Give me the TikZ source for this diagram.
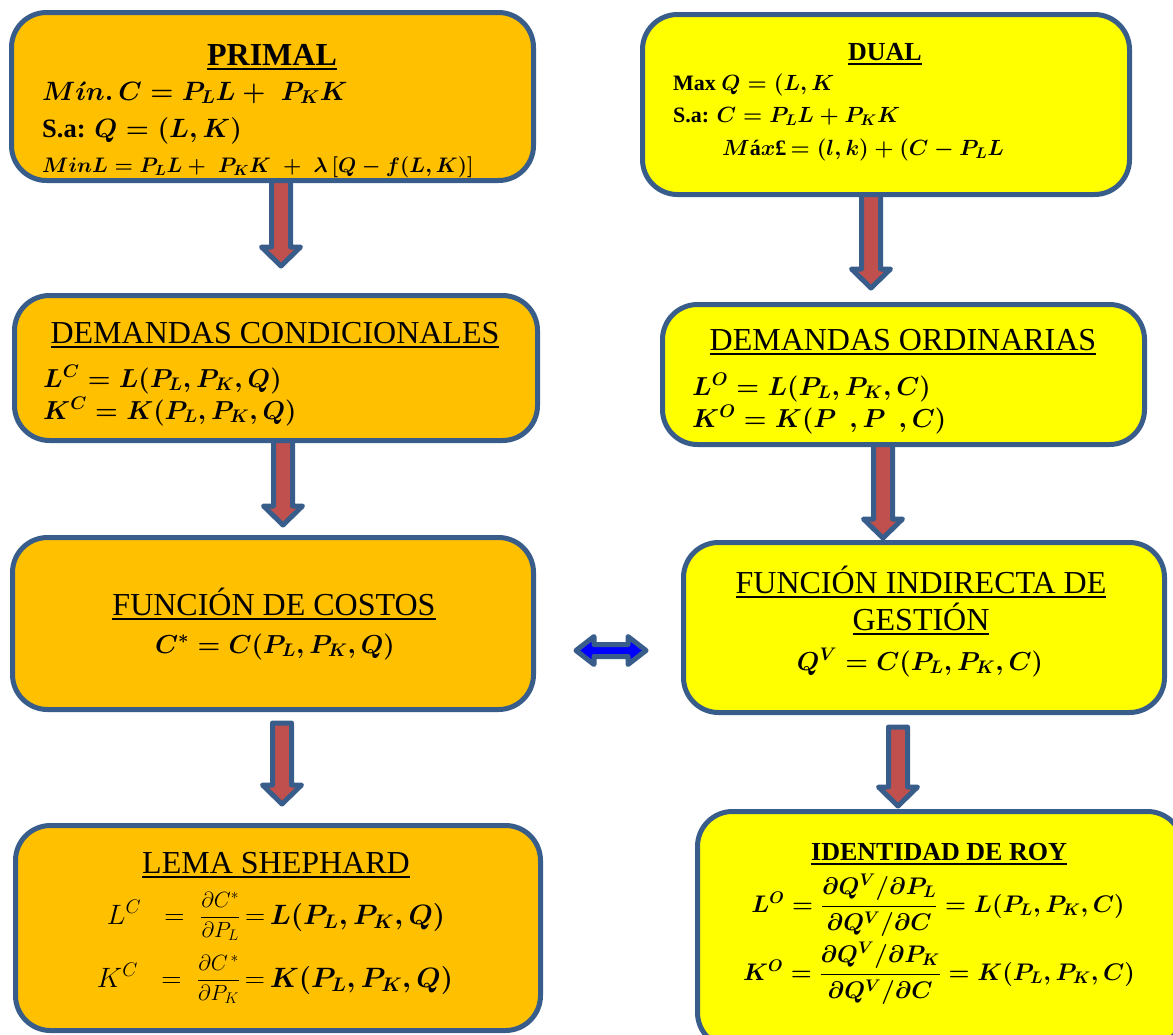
\RequirePackage{fix-cm}
\documentclass[tikz,border=0pt]{standalone}
\usepackage{amsmath}
\usepackage{fontspec}
\setmainfont{Liberation Serif}
\definecolor{boxline}{RGB}{56,93,138}
\definecolor{orangefill}{RGB}{255,192,0}
\definecolor{yellowfill}{RGB}{255,255,0}
\definecolor{arrowred}{RGB}{192,80,77}
\definecolor{arrowblue}{RGB}{0,0,255}
\newcommand\myul[1]{\leavevmode\setbox0=\hbox{#1}\rlap{\rule[-5pt]{\wd0}{2.5pt}}\box0}
\newcommand\myfs[1]{\fontsize{#1}{#1}\selectfont}
\newcommand\blockdown[3]{%
  \draw[blockarr] (#1-9.5,#2) -- (#1-9.5,#3-19) -- (#1-19.5,#3-19) -- (#1,#3)
    -- (#1+19.5,#3-19) -- (#1+9.5,#3-19) -- (#1+9.5,#2) -- cycle;}
\tikzset{
  box/.style={draw=boxline, line width=5pt, rounded corners=35pt, inner sep=0pt, rectangle},
  obox/.style={box, fill=orangefill},
  ybox/.style={box, fill=yellowfill},
  blockarr/.style={fill=arrowred, draw=boxline, line width=5pt, line join=round},
  lefttext/.style={inner sep=0pt, anchor=base west},
  midtext/.style={inner sep=0pt, anchor=base},
}
\begin{document}
\begin{tikzpicture}[x=1pt, y=-1pt]
\useasboundingbox (0,0) rectangle (1173,1034);
\clip (0,0) rectangle (1173,1034);
% block arrows (drawn first, behind boxes)
\blockdown{281}{178}{266}
\blockdown{871}{192}{288}
\blockdown{283}{438}{525}
\blockdown{883}{442}{538}
\blockdown{282}{723}{804}
\blockdown{898}{727}{806}
% boxes
\node[obox, minimum width=522pt, minimum height=168pt] (b1) at (272.5,96.5) {};
\node[ybox, minimum width=487pt, minimum height=180pt] (b2) at (886,104.5) {};
\node[obox, minimum width=523pt, minimum height=145pt] (b3) at (276,368) {};
\node[ybox, minimum width=482pt, minimum height=140pt] (b4) at (903.5,374.5) {};
\node[obox, minimum width=521pt, minimum height=172pt] (b5) at (273,623.5) {};
\node[ybox, minimum width=481pt, minimum height=170pt] (b6) at (924,627.5) {};
\node[obox, minimum width=525pt, minimum height=205pt] (b7) at (278,928) {};
\node[ybox, minimum width=485pt, minimum height=236pt] (b8) at (940,929.5) {};
% double arrow between b5 and b6
\draw[blockarr, fill=arrowblue] (576,650.5) -- (594,636.5) -- (594,644.5) -- (628,644.5)
  -- (628,636.5) -- (646,650.5) -- (628,664.5) -- (628,656.5) -- (594,656.5)
  -- (594,664.5) -- cycle;
% PRIMAL
\node[midtext] (t1) at (272,65) {{\myfs{32}\bfseries\myul{PRIMAL}}};
\node[lefttext] (t1a) at (42,100) {{\myfs{26.5}\boldmath$M\acute{\imath}n.\,C = P_LL +\; P_KK$}};
\node[lefttext] (t1b) at (42,137) {{\myfs{26.5}\bfseries S.a: \boldmath$Q = (L,K)$}};
\node[lefttext] (t1c) at (42,172) {{\myfs{21}\boldmath$MinL = P_LL +\; P_KK \;+\; \lambda\,[Q - f(L,K)]$}};
% DUAL
\node[midtext] (t2) at (885,60) {{\myfs{26}\bfseries\myul{DUAL}}};
\node[lefttext] (t2a) at (673,90) {{\myfs{22}\bfseries Max \boldmath$Q = (L,K$}};
\node[lefttext] (t2b) at (673,122) {{\myfs{22}\bfseries S.a: \boldmath$C = P_LL + P_KK$}};
\node[lefttext] (t2c) at (722,155) {{\myfs{22}\bfseries\boldmath$M$á$x$£$\,= (l,k) + (C - P_LL$}};
% DEMANDAS CONDICIONALES
\node[midtext] (t3) at (275,343) {{\myfs{32}\myul{DEMANDAS CONDICIONALES}}};
\node[lefttext] (t3a) at (43,387) {{\myfs{26}\boldmath$L^C = L(P_L,P_K,Q)$}};
\node[lefttext] (t3b) at (43,419) {{\myfs{26}\boldmath$K^C = K(P_L,P_K,Q)$}};
% DEMANDAS ORDINARIAS
\node[midtext] (t4) at (903,350) {{\myfs{32}\myul{DEMANDAS ORDINARIAS}}};
\node[lefttext] (t4a) at (692,395) {{\myfs{26}\boldmath$L^O = L(P_L,P_K,C)$}};
\node[lefttext] (t4b) at (692,427) {{\myfs{26}\boldmath$K^O = K(P\hspace{13pt},P\hspace{13pt},C)$}};
% FUNCION DE COSTOS
\node[midtext] (t5) at (274,615) {{\myfs{32}\myul{FUNCIÓN DE COSTOS}}};
\node[midtext] (t5a) at (275,653) {{\myfs{26}\boldmath$C^{*} = C(P_L,P_K,Q)$}};
% FUNCION INDIRECTA
\node[midtext] (t6) at (921,593) {{\myfs{32}\myul{FUNCIÓN INDIRECTA DE}}};
\node[midtext] (t6b) at (921,630) {{\myfs{32}\myul{GESTIÓN}}};
\node[midtext] (t6a) at (920,670) {{\myfs{26}\boldmath$Q^V = C(P_L,P_K,C)$}};
% LEMA SHEPHARD
\node[midtext] (t7) at (276,873) {{\myfs{32}\myul{LEMA SHEPHARD}}};
\node[midtext] (t7a) at (276,924) {{\myfs{28}$L^C\;\;=\;\;$\raisebox{1.5pt}{\myfs{22}$\dfrac{\partial C^*}{\partial P_L}$}\,$=$\,{\boldmath$L(P_L,P_K,Q)$}}};
\node[midtext] (t7b) at (275,987) {{\myfs{28}$K^C\;\;=\;\;$\raisebox{1.5pt}{\myfs{22}$\dfrac{\partial C^{\,*}}{\partial P_K}$}\,$=$\,{\boldmath$K(P_L,P_K,Q)$}}};
% IDENTIDAD DE ROY
\node[midtext] (t8) at (939,860) {{\myfs{26}\bfseries\myul{IDENTIDAD DE ROY}}};
\node[midtext] (t8a) at (938,912) {{\myfs{24}\boldmath$L^O = \dfrac{\partial Q^V/\partial P_L}{\partial Q^V/\partial C} = L(P_L,P_K,C)$}};
\node[midtext] (t8b) at (939,980) {{\myfs{24}\boldmath$K^O = \dfrac{\partial Q^V/\partial P_K}{\partial Q^V/\partial C} = K(P_L,P_K,C)$}};
\end{tikzpicture}
\end{document}
